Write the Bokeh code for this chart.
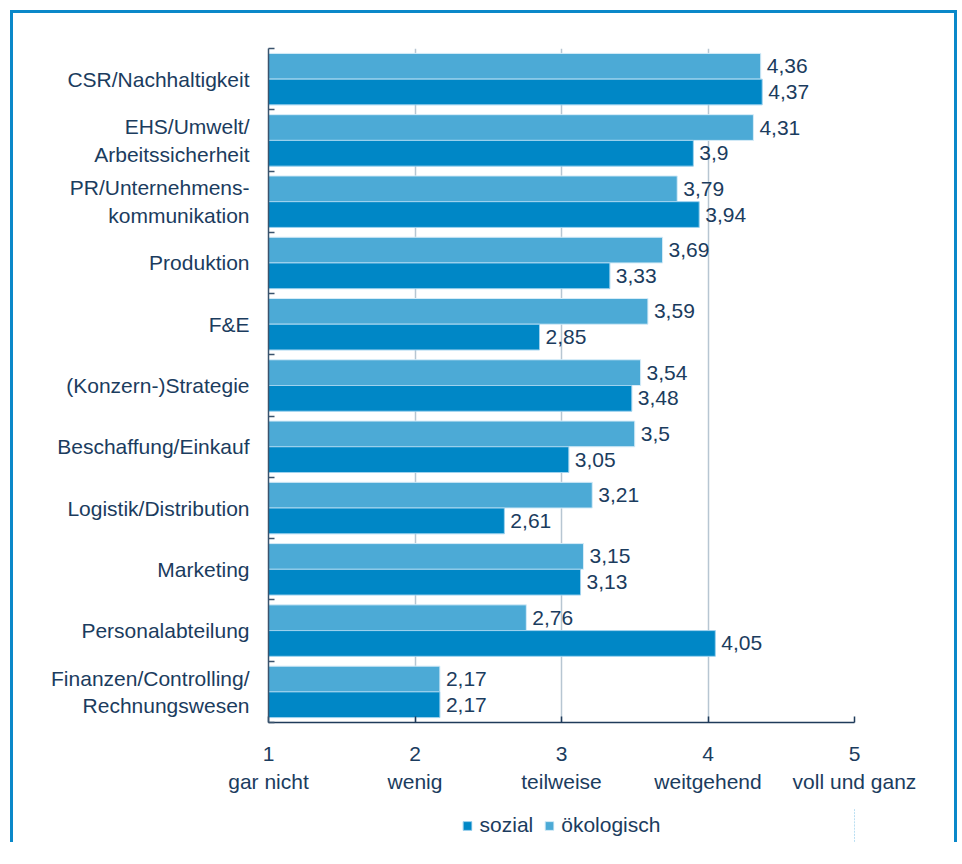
from bokeh.plotting import figure
from bokeh.layouts import column
from bokeh.models import (ColumnDataSource, Range1d, LinearAxis, FixedTicker, Legend, LegendItem)
from bokeh.transform import dodge
from bokeh.core.properties import value
from bokeh.embed import file_html
from bokeh.resources import INLINE

categories = ["CSR/Nachhaltigkeit", "EHS/Umwelt/\nArbeitssicherheit", "PR/Unternehmens-\nkommunikation",
              "Produktion", "F&E", "(Konzern-)Strategie", "Beschaffung/Einkauf",
              "Logistik/Distribution", "Marketing", "Personalabteilung",
              "Finanzen/Controlling/\nRechnungswesen"]
oekologisch = [4.36, 4.31, 3.79, 3.69, 3.59, 3.54, 3.5, 3.21, 3.15, 2.76, 2.17]
sozial = [4.37, 3.9, 3.94, 3.33, 2.85, 3.48, 3.05, 2.61, 3.13, 4.05, 2.17]
scale_ticks = [1, 2, 3, 4, 5]
scale_labels = ["gar nicht", "wenig", "teilweise", "weitgehend", "voll und ganz"]
series_names = ["sozial", "ökologisch"]

FONT = "Liberation Sans"
TXT = "#1b3c5e"
C_SOZ = "#0087c6"
C_OEK = "#4caad6"

def fmt(v):
    return ("%g" % v).replace(".", ",")

n = len(categories)
pos = [i + 0.5 for i in range(n)]   # category slot centres (0 = top)

src = ColumnDataSource(dict(
    pos=pos, oeko=oekologisch, soz=sozial,
    oeko_lbl=[fmt(v) for v in oekologisch], soz_lbl=[fmt(v) for v in sozial],
))

p = figure(frame_width=586, frame_height=674, output_backend="svg", toolbar_location=None,
           y_range=Range1d(start=n, end=0), x_range=Range1d(1, 5), y_axis_location=None,
           min_border_left=255, min_border_right=100, min_border_top=35, min_border_bottom=86)
p.outline_line_color = None

# left axis with ticks at category boundaries
bounds = list(range(n + 1))
tick_axis = LinearAxis(ticker=FixedTicker(ticks=bounds),
                       major_label_overrides={b: "" for b in bounds})
tick_axis.major_label_standoff = 0
tick_axis.major_tick_in = 6
tick_axis.major_tick_out = 0
tick_axis.minor_tick_line_color = None
tick_axis.axis_line_color = "#3a536d"
tick_axis.axis_line_width = 1.5
tick_axis.major_tick_line_color = "#3a536d"
tick_axis.major_tick_line_width = 1.5
p.add_layout(tick_axis, "left")

cat_axis = LinearAxis(ticker=FixedTicker(ticks=pos),
                      major_label_overrides={pp: c for pp, c in zip(pos, categories)})
cat_axis.axis_line_color = None
cat_axis.major_tick_line_color = None
cat_axis.minor_tick_line_color = None
cat_axis.major_label_standoff = 13
cat_axis.major_label_text_font = FONT
cat_axis.major_label_text_font_size = "21px"
cat_axis.major_label_text_color = TXT
p.add_layout(cat_axis, "left")

# bottom axes
xa = p.xaxis[0]
xa.ticker = FixedTicker(ticks=scale_ticks)
xa.major_tick_in = 6
xa.major_tick_out = 0
xa.minor_tick_line_color = None
xa.axis_line_color = "#1f3b5a"
xa.axis_line_width = 1.5
xa.major_tick_line_color = "#1f3b5a"
xa.major_tick_line_width = 1.5
xa.major_label_standoff = 24
xa.major_label_text_font = FONT
xa.major_label_text_font_size = "21px"
xa.major_label_text_color = TXT

xa2 = LinearAxis(ticker=FixedTicker(ticks=scale_ticks),
                 major_label_overrides={t: l for t, l in zip(scale_ticks, scale_labels)})
xa2.axis_line_color = None
xa2.major_tick_line_color = None
xa2.minor_tick_line_color = None
xa2.major_tick_in = 0
xa2.major_tick_out = 0
xa2.major_label_standoff = 6
xa2.major_label_text_font = FONT
xa2.major_label_text_font_size = "21px"
xa2.major_label_text_color = TXT
p.add_layout(xa2, "below")

p.xgrid.ticker = FixedTicker(ticks=scale_ticks[1:])
p.xgrid.grid_line_color = "#b7c6d2"
p.xgrid.grid_line_width = 1.5
p.ygrid.grid_line_color = None

p.hbar(y=dodge("pos", -0.21), left=1, right="oeko", height=0.42,
       source=src, fill_color=C_OEK, line_color="#d6ecf8", line_width=1)
p.hbar(y=dodge("pos", 0.21), left=1, right="soz", height=0.42,
       source=src, fill_color=C_SOZ, line_color="#9fd2ee", line_width=1)

for col, lbl, off in (("oeko", "oeko_lbl", -0.21), ("soz", "soz_lbl", 0.21)):
    p.text(x=col, y=dodge("pos", off), text=lbl, source=src,
           x_offset=6, text_baseline="middle", text_align="left",
           text_font=value(FONT), text_font_size="21px", text_color=TXT)

# legend strip below the chart (same frame geometry so it centres under the plot area);
# the series are re-drawn here outside the visible x range only to feed the legend swatches
p2 = figure(frame_width=586, frame_height=34, output_backend="svg", toolbar_location=None,
            x_axis_location=None, y_axis_location=None,
            x_range=Range1d(-20, -19), y_range=Range1d(0, n),
            min_border_left=255, min_border_right=100, min_border_top=0, min_border_bottom=0)
p2.outline_line_color = None
p2.grid.grid_line_color = None
lr_soz = p2.hbar(y="pos", right="soz", height=0.42, source=src,
                 fill_color=C_SOZ, line_color="#9fd2ee", line_width=1)
lr_oek = p2.hbar(y="pos", right="oeko", height=0.42, source=src,
                 fill_color=C_OEK, line_color="#d6ecf8", line_width=1)
legend = Legend(items=[LegendItem(label=series_names[0], renderers=[lr_soz]),
                       LegendItem(label=series_names[1], renderers=[lr_oek])],
                orientation="horizontal", location="center",
                glyph_width=11, glyph_height=11, label_standoff=7, spacing=10,
                padding=0, margin=0, border_line_color=None, background_fill_alpha=0,
                label_text_font=FONT, label_text_font_size="21px", label_text_color=TXT)
p2.add_layout(legend, "center")

layout = column(p, p2, spacing=0)
layout.styles = {"margin-left": "10px", "margin-top": "10px",
                 "border-top": "3px solid #0a88c9", "border-left": "3px solid #0a88c9",
                 "border-right": "3px solid #0a88c9"}

open("out.html", "w").write(file_html(layout, INLINE))
